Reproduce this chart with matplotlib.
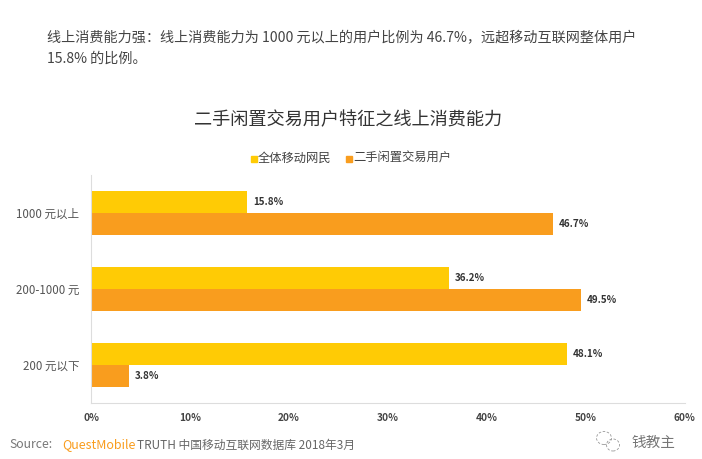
import matplotlib
matplotlib.use("Agg")
import matplotlib.pyplot as plt
from matplotlib.patches import Ellipse, Rectangle

plt.rcParams['font.family'] = ['Noto Sans CJK SC', 'DejaVu Sans']

categories = ['1000 元以上', '200-1000 元', '200 元以下']
all_users = [15.8, 36.2, 48.1]
second_hand = [46.7, 49.5, 3.8]
series_names = ['全体移动网民', '二手闲置交易用户']
ticks = [0, 10, 20, 30, 40, 50, 60]
title = '二手闲置交易用户特征之线上消费能力'
intro1 = '线上消费能力强：线上消费能力为 1000 元以上的用户比例为 46.7%，远超移动互联网整体用户'
intro2 = '15.8% 的比例。'

W, H = 702, 459
YEL, ORG = '#FFCB05', '#F99D1E'
fig = plt.figure(figsize=(W/100, H/100), dpi=100, facecolor='white')
ax = fig.add_axes([91.2/W, 1-403/H, (684.5-91.2)/W, (403-175)/H])

h = 0.285
pos = range(len(categories))
ax.barh([p-h/2 for p in pos], all_users, h, color=YEL)
ax.barh([p+h/2 for p in pos], second_hand, h, color=ORG)
for p, a, b in zip(pos, all_users, second_hand):
    ax.text(a+0.6, p-h/2, f'{a}%', va='center', ha='left', fontsize=7.1, fontweight='bold', color='#333333')
    ax.text(b+0.6, p+h/2, f'{b}%', va='center', ha='left', fontsize=7.1, fontweight='bold', color='#333333')

ax.set_xlim(0, 60)
ax.set_ylim(2.5, -0.5)
ax.set_yticks(list(pos), categories, fontsize=8.3, color='#555555')
ax.set_xticks(ticks, [f'{t}%' for t in ticks], fontsize=7.3, fontweight='bold', color='#444444')
ax.tick_params(length=0)
ax.tick_params(axis='x', pad=7.5)
ax.tick_params(axis='y', pad=8.5)
for s in ('top', 'right'):
    ax.spines[s].set_visible(False)
for s in ('left', 'bottom'):
    ax.spines[s].set_color('#DDDDDD')
    ax.spines[s].set_linewidth(0.8)

def T(x, y, s, **k):
    return fig.text(x/W, 1-y/H, s, va='center', **k)

T(47, 38, intro1, fontsize=10.15, color='#444444')
T(47, 59, intro2, fontsize=10.15, color='#444444')
T(348, 120.5, title, fontsize=13.1, color='#333333', ha='center')

fig.patches.extend([
    Rectangle((251/W, 1-161.5/H), 6/W, 6/H, transform=fig.transFigure, color=YEL),
    Rectangle((346/W, 1-161.5/H), 6/W, 6/H, transform=fig.transFigure, color=ORG),
])
T(258, 158.5, series_names[0], fontsize=8.85, color='#444444')
T(353, 158.5, series_names[1], fontsize=8.85, color='#444444')

T(9, 445, 'Source:', fontsize=8.8, color='#777777')
T(62, 445, 'QuestMobile', fontsize=9, color='#F99D1E')
T(137, 445, 'TRUTH 中国移动互联网数据库 2018年3月', fontsize=8.5, color='#666666')
T(632, 443, '钱教主', fontsize=10.5, color='#777777')

# watermark bubbles
fig.patches.extend([
    Ellipse((604/W, 1-438/H), 15/W, 13/H, transform=fig.transFigure, fill=False, ec='#999999', lw=0.6, ls=(0, (3, 2))),
    Ellipse((613/W, 1-445/H), 13/W, 12/H, transform=fig.transFigure, fill=False, ec='#999999', lw=0.6, ls=(0, (3, 2))),
])

fig.savefig('out.png', dpi=100)
